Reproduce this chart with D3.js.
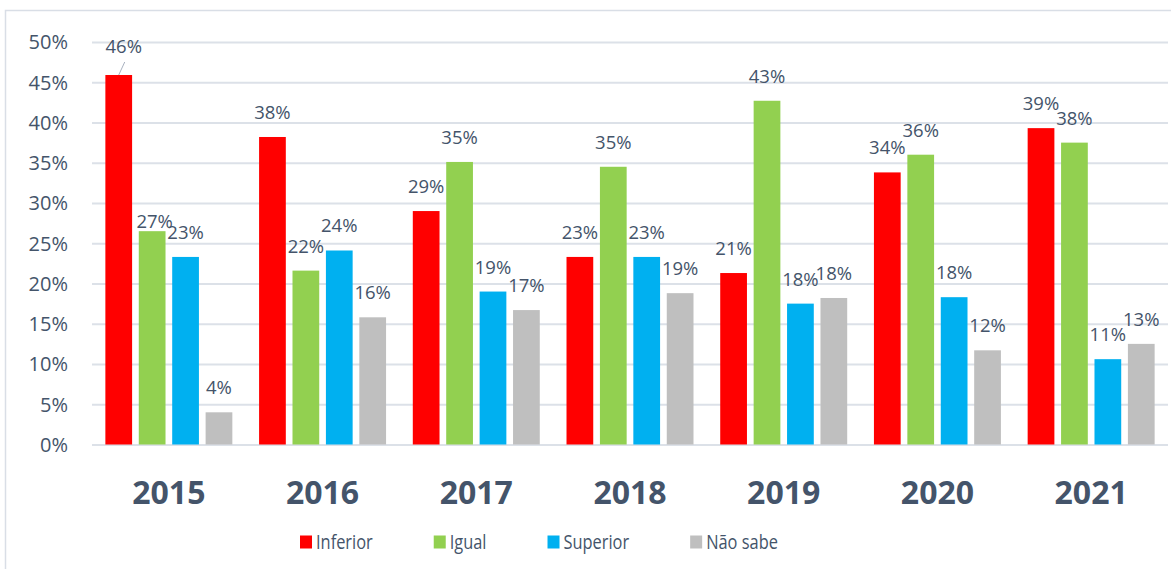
<!DOCTYPE html>
<html>
<head>
<meta charset="utf-8">
<script src="https://cdn.jsdelivr.net/npm/d3@7"></script>
<style>
  html, body { margin: 0; padding: 0; background: #ffffff; }
  svg text { font-family: "Open Sans", "Noto Sans", sans-serif; }
</style>
</head>
<body>
<div id="chart"></div>
<script>
// 数据
const years = ['2015', '2016', '2017', '2018', '2019', '2020', '2021'];
const seriesNames = ['Inferior', 'Igual', 'Superior', 'Não sabe'];
const inferior = [45.9, 38.2, 29.0, 23.3, 21.3, 33.8, 39.3];
const igual = [26.5, 21.6, 35.1, 34.5, 42.7, 36.0, 37.5];
const superior = [23.3, 24.1, 19.0, 23.3, 17.5, 18.3, 10.6];
const naoSabe = [4.0, 15.8, 16.7, 18.8, 18.2, 11.7, 12.5];
const yTicks = [0, 5, 10, 15, 20, 25, 30, 35, 40, 45, 50];

const seriesValues = [inferior, igual, superior, naoSabe];
const colors = ['#FF0000', '#92D050', '#00B0F0', '#BFBFBF'];
const textColor = '#44546A';
const gridColor = '#DCE1E8';

// 手动移动过的标签
const labelNudge = {
  'Inferior|2015': { dx: 5, dy: -4, leader: true },
  'Igual|2015': { dx: 2.5, dy: 14.7 }
};

const width = 1171;
const height = 569;
const plot = { left: 92, right: 1168, top: 42, bottom: 444.5 };

const rows = [];
years.forEach((year, i) => {
  seriesNames.forEach((name, j) => {
    rows.push({ year, series: name, value: seriesValues[j][i], color: colors[j] });
  });
});

const svg = d3.select('#chart')
  .append('svg')
  .attr('width', width)
  .attr('height', height);

// 外框
svg.append('rect')
  .attr('x', 5.5)
  .attr('y', 10.5)
  .attr('width', 1200)
  .attr('height', 600)
  .attr('fill', 'none')
  .attr('stroke', '#D9DEE6')
  .attr('stroke-width', 1.5);

// 比例尺
const x0 = d3.scaleBand()
  .domain(years)
  .range([plot.left, plot.right])
  .padding(0);

const x1 = d3.scaleBand()
  .domain(seriesNames)
  .range([0, x0.bandwidth()])
  .paddingInner(0.2)
  .paddingOuter(0.4);

const y = d3.scaleLinear()
  .domain([0, 50])
  .range([plot.bottom, plot.top]);

// 网格线
svg.append('g')
  .attr('class', 'grid')
  .attr('transform', `translate(${plot.left}, 0)`)
  .call(d3.axisLeft(y).tickValues(yTicks).tickSize(-(plot.right - plot.left)).tickFormat(''))
  .call(g => g.select('.domain').remove())
  .call(g => g.selectAll('line').attr('stroke', gridColor).attr('stroke-width', 2));

// Y轴
svg.append('g')
  .attr('class', 'y-axis')
  .attr('transform', `translate(${plot.left}, 0)`)
  .call(d3.axisLeft(y).tickValues(yTicks).tickSize(0).tickPadding(24).tickFormat(d => d + '%'))
  .call(g => g.attr('font-family', null).attr('font-size', null))
  .call(g => g.select('.domain').remove())
  .call(g => g.selectAll('text')
    .attr('fill', textColor)
    .style('font-size', '20px')
    .attr('dy', '0.34em'));

// X轴
svg.append('g')
  .attr('class', 'x-axis')
  .attr('transform', `translate(0, ${plot.bottom})`)
  .call(d3.axisBottom(x0).tickSize(0).tickPadding(37))
  .call(g => g.attr('font-family', null).attr('font-size', null))
  .call(g => g.select('.domain').remove())
  .call(g => g.selectAll('text')
    .attr('fill', textColor)
    .style('font-size', '32px')
    .style('font-weight', 'bold'));

// 柱子
svg.append('g')
  .selectAll('rect')
  .data(rows)
  .enter()
  .append('rect')
  .attr('class', 'bar')
  .attr('x', d => x0(d.year) + x1(d.series))
  .attr('y', d => y(d.value))
  .attr('width', x1.bandwidth())
  .attr('height', d => y(0) - y(d.value))
  .attr('fill', d => d.color);

// 引导线
svg.append('g')
  .selectAll('line')
  .data(rows.filter(d => (labelNudge[d.series + '|' + d.year] || {}).leader))
  .enter()
  .append('line')
  .attr('x1', d => x0(d.year) + x1(d.series) + x1.bandwidth() / 2)
  .attr('y1', d => y(d.value))
  .attr('x2', d => x0(d.year) + x1(d.series) + x1.bandwidth() / 2 + labelNudge[d.series + '|' + d.year].dx + 1)
  .attr('y2', d => y(d.value) - 13)
  .attr('stroke', '#A9B2C0')
  .attr('stroke-width', 1);

// 数值标注
svg.append('g')
  .selectAll('text')
  .data(rows)
  .enter()
  .append('text')
  .attr('class', 'bar-label')
  .attr('x', d => {
    const n = labelNudge[d.series + '|' + d.year] || {};
    return x0(d.year) + x1(d.series) + x1.bandwidth() / 2 + (n.dx || 0);
  })
  .attr('y', d => {
    const n = labelNudge[d.series + '|' + d.year] || {};
    return y(d.value) - 18 + (n.dy || 0);
  })
  .attr('text-anchor', 'middle')
  .attr('fill', textColor)
  .style('font-size', '18.5px')
  .text(d => Math.round(d.value) + '%');

// 图例
const legend = svg.append('g').attr('class', 'legend');
const squeeze = 0.8;
let lx = 300;
seriesNames.forEach((name, i) => {
  legend.append('rect')
    .attr('x', lx)
    .attr('y', 535.5)
    .attr('width', 12)
    .attr('height', 13)
    .attr('fill', colors[i]);
  const t = legend.append('text')
    .attr('transform', `translate(${lx + 16}, 549) scale(${squeeze}, 1)`)
    .attr('fill', textColor)
    .style('font-size', '20.5px')
    .text(name);
  lx += 16 + t.node().getComputedTextLength() * squeeze + 61;
});
</script>
</body>
</html>
